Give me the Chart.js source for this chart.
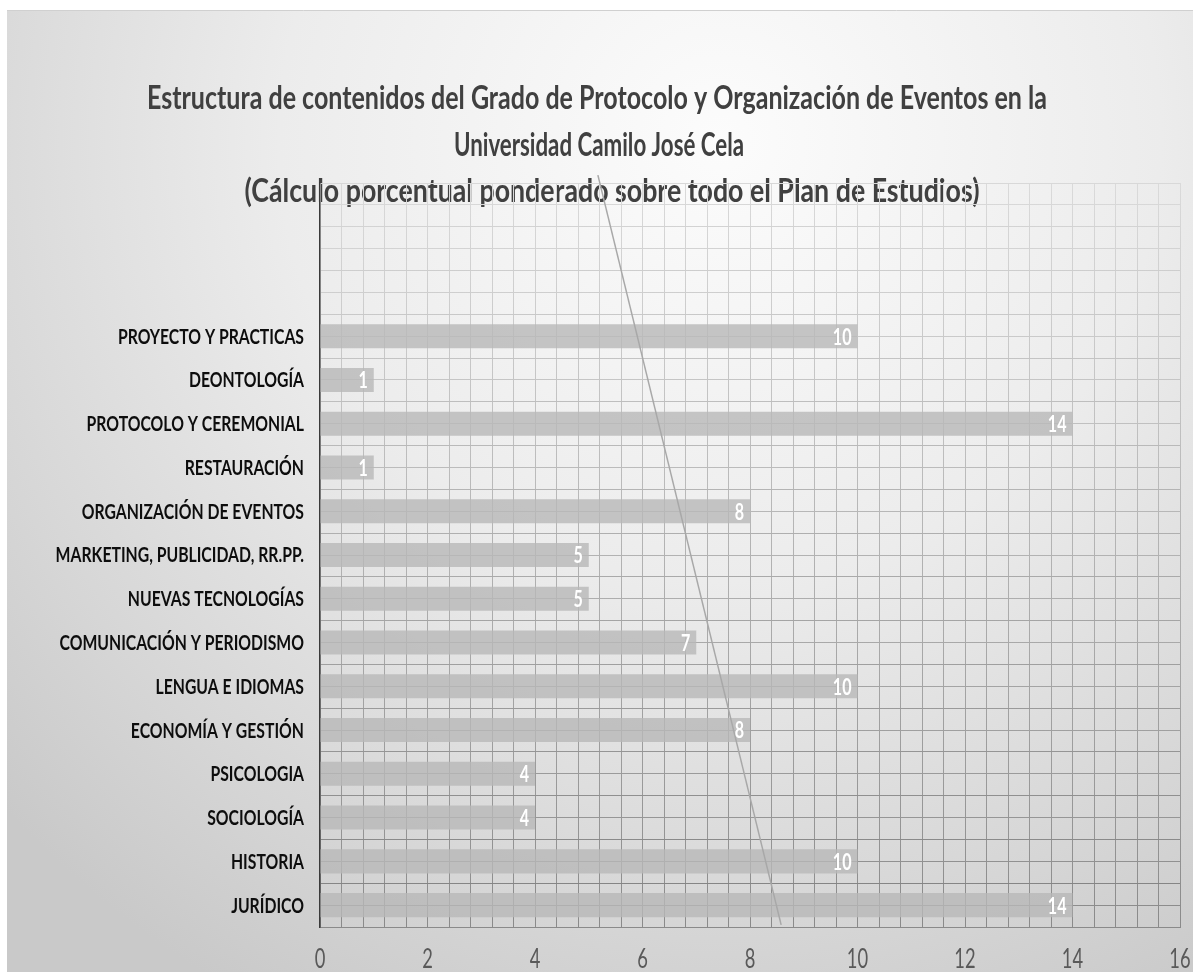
<!DOCTYPE html>
<html>
<head>
<meta charset="utf-8">
<script src="https://cdn.jsdelivr.net/npm/chart.js@4.4.0/dist/chart.umd.min.js"></script>
<style>
  html, body { margin: 0; padding: 0; background: #fff; }
  #wrap { width: 1193px; height: 972px; }
</style>
</head>
<body>
<div id="wrap"><canvas id="myBarChart" width="1193" height="972"></canvas></div>
<script>
// title lines
const titleLines = [
    'Estructura de contenidos del Grado de Protocolo y Organización de Eventos en la',
    'Universidad Camilo José Cela',
    '(Cálculo porcentual ponderado sobre todo el Plan de Estudios)'
];

// categories, top to bottom (the first three rows are empty in the original)
const categories = ['', '', '',
    'PROYECTO Y PRACTICAS', 'DEONTOLOGÍA', 'PROTOCOLO Y CEREMONIAL', 'RESTAURACIÓN',
    'ORGANIZACIÓN DE EVENTOS', 'MARKETING, PUBLICIDAD, RR.PP.', 'NUEVAS TECNOLOGÍAS',
    'COMUNICACIÓN Y PERIODISMO', 'LENGUA E IDIOMAS', 'ECONOMÍA Y GESTIÓN', 'PSICOLOGIA',
    'SOCIOLOGÍA', 'HISTORIA', 'JURÍDICO'];
const values = [null, null, null, 10, 1, 14, 1, 8, 5, 5, 7, 10, 8, 4, 4, 10, 14];

// x axis range and ticks
const xMin = 0, xMax = 16, xMajor = 2, xMinor = 0.4;

// the stray diagonal line of the original, in data units (x value, row position from bottom)
const lineX = [5.17, 8.58];
const lineY = [17.18, 0.05];

const FONT = "Lato, 'Open Sans', 'DejaVu Sans', sans-serif";

function gridGradient(chart, light, dark) {
    const a = chart.chartArea;
    if (!a) return light;
    const g = chart.ctx.createLinearGradient(0, a.top, 0, a.bottom);
    g.addColorStop(0, light);
    g.addColorStop(1, dark);
    return g;
}

// draws text squeezed horizontally (the original uses a narrow font)
function squeezed(c, text, x, y, sx, align) {
    c.save();
    c.translate(x, y);
    c.scale(sx, 1);
    c.textAlign = align;
    c.fillText(text, 0, 0);
    c.restore();
}

const backgroundPlugin = {
    id: 'bg',
    beforeDraw(chart) {
        const c = chart.ctx;
        const w = chart.width, h = chart.height;
        c.save();
        c.fillStyle = '#ffffff';
        c.fillRect(0, 0, w, h);
        const g = c.createRadialGradient(720, 140, 0, 720, 140, 980);
        g.addColorStop(0, '#fcfcfc');
        g.addColorStop(0.45, '#ececec');
        g.addColorStop(0.8, '#d6d6d6');
        g.addColorStop(1, '#c9c9c9');
        c.fillStyle = g;
        c.fillRect(7, 10, w - 7, h - 10);
        c.strokeStyle = '#d0d0d0';
        c.lineWidth = 1;
        c.beginPath();
        c.moveTo(7, 10.5);
        c.lineTo(w, 10.5);
        c.stroke();

        // title, each line fitted to the width it has in the original
        c.font = 'bold 33px ' + FONT;
        c.fillStyle = '#404040';
        c.textBaseline = 'alphabetic';
        const widths = [900, 290, 735];
        const centers = [597, 599, 612];
        const baselines = [109, 156, 202];
        titleLines.forEach((t, i) => {
            const sx = widths[i] / c.measureText(t).width;
            squeezed(c, t, centers[i], baselines[i], sx, 'center');
        });
        c.restore();
    }
};

const labelsPlugin = {
    id: 'labels',
    afterDatasetsDraw(chart) {
        const c = chart.ctx;
        const area = chart.chartArea;
        const ys = chart.scales.y, xs = chart.scales.x;
        c.save();
        c.textBaseline = 'middle';

        // category labels
        c.font = 'bold 20px ' + FONT;
        c.fillStyle = '#0d0d0d';
        const syx = 186 / c.measureText('PROYECTO Y PRACTICAS').width;
        categories.forEach((lab, i) => {
            if (!lab) return;
            squeezed(c, lab, area.left - 16, ys.getPixelForTick(i) + 1, syx, 'right');
        });

        // x tick labels
        c.font = '27px ' + FONT;
        c.fillStyle = '#595959';
        for (let v = xMin; v <= xMax; v += xMajor) {
            squeezed(c, String(v), xs.getPixelForValue(v), area.bottom + 32, 0.68, 'center');
        }

        // value labels inside the bars
        c.font = 'bold 23px ' + FONT;
        c.fillStyle = '#ffffff';
        chart.getDatasetMeta(0).data.forEach((el, i) => {
            const v = values[i];
            if (v === null) return;
            squeezed(c, String(v), el.x - 6, el.y + 1, 0.7, 'right');
        });
        c.restore();
    }
};

const ctx = document.getElementById('myBarChart').getContext('2d');

const data = {
    labels: categories,
    datasets: [{
        type: 'bar',
        label: 'Contenidos',
        data: values,
        backgroundColor: 'rgba(184,184,184,0.8)',
        borderWidth: 0,
        grouped: false,
        categoryPercentage: 1,
        barPercentage: 0.55,
        xAxisID: 'x',
        yAxisID: 'y',
        order: 1
    }, {
        type: 'line',
        label: 'linea',
        data: lineX.map((x, i) => ({ x: x, y: lineY[i] })),
        borderColor: '#a8a8a8',
        borderWidth: 1.5,
        pointRadius: 0,
        fill: false,
        clip: false,
        xAxisID: 'x',
        yAxisID: 'yl',
        indexAxis: 'y',
        order: 0
    }]
};

const options = {
    indexAxis: 'y',
    responsive: false,
    animation: false,
    layout: { padding: { top: 183, right: 13, bottom: 0, left: 0 } },
    plugins: {
        legend: { display: false },
        tooltip: { enabled: false },
        title: { display: false }
    },
    scales: {
        x: {
            type: 'linear',
            min: xMin,
            max: xMax,
            afterFit(s) { s.height = 45; },
            ticks: {
                display: false,
                stepSize: xMinor,
                autoSkip: false,
                maxRotation: 0
            },
            grid: {
                drawTicks: false,
                lineWidth: 1,
                color(c) { return gridGradient(c.chart, '#dadada', '#8a8a8a'); }
            },
            border: { display: true, color: '#8a8a8a', width: 1 }
        },
        y: {
            type: 'category',
            position: 'left',
            offset: true,
            afterFit(s) { s.width = 320; },
            ticks: { display: false },
            grid: {
                offset: true,
                drawTicks: false,
                lineWidth: 1,
                color(c) { return gridGradient(c.chart, '#d8d8d8', '#808080'); }
            },
            border: { display: true, color: '#3a3a3a', width: 1.5 }
        },
        y2: {
            type: 'category',
            position: 'left',
            labels: categories,
            offset: true,
            afterFit(s) { s.width = 0; },
            ticks: { display: false },
            grid: {
                offset: false,
                drawTicks: false,
                lineWidth: 1,
                color(c) { return gridGradient(c.chart, '#dadada', '#8a8a8a'); }
            },
            border: { display: false }
        },
        yl: {
            type: 'linear',
            display: false,
            offset: false,
            min: 0,
            max: categories.length
        }
    }
};

const myBarChart = new Chart(ctx, {
    type: 'bar',
    data: data,
    options: options,
    plugins: [backgroundPlugin, labelsPlugin]
});
</script>
</body>
</html>
